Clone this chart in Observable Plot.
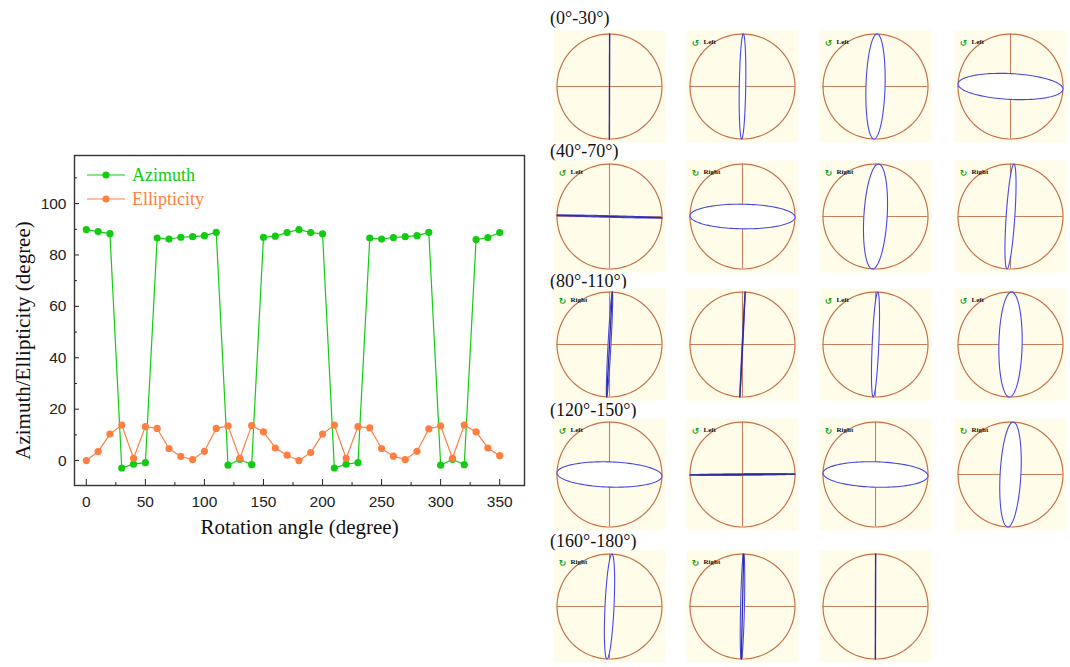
<!DOCTYPE html>
<html><head><meta charset="utf-8">
<script src="https://cdn.jsdelivr.net/npm/d3@7"></script>
<script src="https://cdn.jsdelivr.net/npm/@observablehq/plot@0.6"></script>
<style>
body{margin:0;background:#fff;}
#root{position:relative;width:1070px;height:667px;overflow:hidden;}
.abs{position:absolute;}
.rowlabel{position:absolute;left:550px;font-family:"Liberation Serif","Times New Roman",serif;font-size:18px;line-height:1;color:#111;transform:translateY(-50%);white-space:nowrap;}
.legend{position:absolute;left:87px;font-family:"Liberation Serif","Times New Roman",serif;font-size:18px;line-height:1;}
.legend .item{position:absolute;left:0;display:flex;align-items:center;white-space:nowrap;transform:translateY(-50%);}
.legend svg{display:block;margin-right:5px;}
</style></head>
<body><div id="root"></div>
<script>
// ---- data ----
const angles = [0,10,20,30,40,50,60,70,80,90,100,110,120,130,140,150,160,170,180,190,200,210,220,230,240,250,260,270,280,290,300,310,320,330,340,350];
const azimuth = [89.9,89.1,88.3,-2.9,-1.4,-0.8,86.6,86.2,86.9,87.1,87.5,88.8,-1.8,0.5,-1.6,86.9,87.3,88.7,89.9,88.7,88.2,-2.9,-1.4,-0.8,86.6,86.2,86.8,87.1,87.5,88.8,-1.8,0.5,-1.6,86.0,86.8,88.7];
const ellipticity = [0,3.5,10.3,13.8,0.9,13.2,12.5,4.7,1.6,0.4,3.6,12.5,13.5,0.9,13.6,11.2,4.9,2.1,0,3.1,10.3,13.8,0.9,13.2,12.7,4.7,1.7,0.4,3.6,12.3,13.5,0.9,13.8,11.2,4.9,1.9];
const seriesNames = ["Azimuth","Ellipticity"];
const xTicks = [0,50,100,150,200,250,300,350];
const xMinorTicks = [25,75,125,175,225,275,325];
const yTicks = [0,20,40,60,80,100];
const yMinorTicks = [10,30,50,70,90,110];
const xLabel = "Rotation angle (degree)";
const yLabel = "Azimuth/Ellipticity (degree)";
const panelAngles = [0,10,20,30,40,50,60,70,80,90,100,110,120,130,140,150,160,170,180];
const panelHand = ["","Left","Left","Left","Left","Right","Right","Right","Right","","Left","Left","Left","Left","Right","Right","Right","Right",""];
const groupLabels = ["(0°-30°)","(40°-70°)","(80°-110°)","(120°-150°)","(160°-180°)"];

// ---- styles / layout ----
const seriesColors = ["#11cc11","#ff7f40"];
const serif = '"Liberation Serif","Times New Roman",serif';
const sans = '"Liberation Sans",Arial,sans-serif';
const root = document.getElementById("root");

const rows = [];
seriesNames.forEach((s, k) => {
  const vals = k === 0 ? azimuth : ellipticity;
  angles.forEach((a, i) => rows.push({angle: a, value: vals[i], series: s}));
});

const chart = Plot.plot({
  width: 540, height: 420,
  marginTop: 25, marginBottom: 65, marginLeft: 74, marginRight: 16,
  x: {domain: [-10, 371]},
  y: {domain: [-9.7, 118.7]},
  color: {domain: seriesNames, range: seriesColors},
  style: {fontFamily: sans, fontSize: "15px", color: "#222", background: "transparent", overflow: "visible"},
  marks: [
    Plot.axisX({ticks: xTicks, tickSize: -6, tickPadding: 16, tickFormat: d => String(d), label: null, fontSize: 15.5}),
    Plot.axisX({ticks: xMinorTicks, tickSize: -3, fill: "none", label: null}),
    Plot.axisY({ticks: yTicks, tickSize: -5, tickPadding: 13, tickFormat: d => String(d), label: null, fontSize: 15.5}),
    Plot.axisY({ticks: yMinorTicks, tickSize: -3, fill: "none", label: null}),
    Plot.line(rows, {x: "angle", y: "value", z: "series", stroke: "series", strokeWidth: 1.2}),
    Plot.dot(rows, {x: "angle", y: "value", fill: "series", r: 3.6}),
    Plot.frame({stroke: "#333", strokeWidth: 1.4}),
    Plot.text([yLabel], {text: d => d, frameAnchor: "left", textAnchor: "middle", rotate: -90, dx: -51, dy: 20, fontFamily: serif, fontSize: 21, fill: "#111"}),
    Plot.text([xLabel], {text: d => d, frameAnchor: "bottom", textAnchor: "middle", dy: 42, lineAnchor: "middle", fontFamily: serif, fontSize: 21, fill: "#111"})
  ]
});
chart.classList.add("abs");
chart.style.left = "0px";
chart.style.top = "130px";
root.appendChild(chart);

// legend (inside plot frame, top-left)
const legend = document.createElement("div");
legend.className = "legend";
legend.style.top = "0px";
seriesNames.forEach((s, k) => {
  const it = document.createElement("div");
  it.className = "item";
  it.style.top = (175 + 24 * k) + "px";
  it.innerHTML = `<svg width="40" height="10"><line x1="0" y1="5" x2="38" y2="5" stroke="${seriesColors[k]}" stroke-width="1.2"/><circle cx="19" cy="5" r="3.6" fill="${seriesColors[k]}"/></svg><span style="color:${seriesColors[k]}">${s}</span>`;
  legend.appendChild(it);
});
root.appendChild(legend);

// ---- polarization ellipse panels ----
const colX = [553, 686, 819, 954];
const rowY = [30, 160, 288, 418, 550];
const labelY = [18, 151, 281, 410, 541];
const dom = [-1.067, 1.067];
const steps = d3.range(0, 361, 3);
const circle = steps.map(t => ({x: Math.cos(t * Math.PI / 180), y: Math.sin(t * Math.PI / 180)}));

groupLabels.forEach((g, r) => {
  const el = document.createElement("div");
  el.className = "rowlabel";
  el.style.top = labelY[r] + "px";
  el.textContent = g;
  root.appendChild(el);
});

panelAngles.forEach((ang, i) => {
  const idx = angles.indexOf(ang);
  const a = azimuth[idx] * Math.PI / 180;
  const b = Math.tan(Math.abs(ellipticity[idx]) * Math.PI / 180);
  const ell = steps.map(t => {
    const c = Math.cos(t * Math.PI / 180), s = Math.sin(t * Math.PI / 180);
    return {x: c * Math.cos(a) - s * b * Math.sin(a), y: c * Math.sin(a) + s * b * Math.cos(a)};
  });
  const axisLine = [{x: -Math.cos(a), y: -Math.sin(a)}, {x: Math.cos(a), y: Math.sin(a)}];
  const thin = Math.abs(ellipticity[idx]) < 2.5;
  const hand = panelHand[i];
  const p = Plot.plot({
    width: 112, height: 112, margin: 0,
    x: {domain: dom, axis: null},
    y: {domain: dom, axis: null},
    style: {background: "transparent", overflow: "visible"},
    marks: [
      Plot.frame({fill: "#fffdea", stroke: null}),
      Plot.ruleX([0], {y1: -1, y2: 1, stroke: "#c8805c", strokeWidth: 1.1}),
      Plot.ruleY([0], {x1: -1, x2: 1, stroke: "#c8805c", strokeWidth: 1.1}),
      Plot.line(circle, {x: "x", y: "y", stroke: "#c4714a", strokeWidth: 1.2}),
      Plot.line(ell, {x: "x", y: "y", stroke: "#4848e0", fill: "white", strokeWidth: 1.1}),
      thin ? Plot.line(axisLine, {x: "x", y: "y", stroke: "#2c2c98", strokeWidth: 1.3}) : null,
      hand ? Plot.text([hand === "Left" ? "↺" : "↻"], {text: d => d, frameAnchor: "top-left", textAnchor: "middle", dx: 9, dy: 9, fill: "#1aa01a", fontSize: 9, fontWeight: "bold", fontFamily: '"DejaVu Sans",sans-serif'}) : null,
      hand ? Plot.text([hand], {text: d => d, frameAnchor: "top-left", textAnchor: "start", dx: 17, dy: 9, fill: "#111", fontSize: 7, fontWeight: "bold", fontFamily: serif}) : null
    ]
  });
  p.classList.add("abs");
  p.style.left = colX[i % 4] + "px";
  p.style.top = rowY[Math.floor(i / 4)] + "px";
  root.appendChild(p);
});
</script>
</body></html>
